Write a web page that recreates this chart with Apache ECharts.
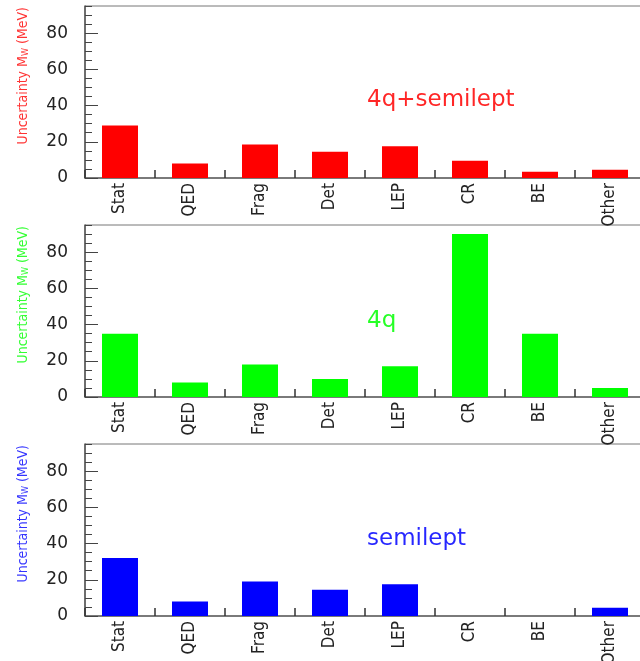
<!DOCTYPE html>
<html>
<head>
<meta charset="utf-8">
<script src="https://cdn.jsdelivr.net/npm/echarts@6/dist/echarts.min.js"></script>
<style>
html,body{margin:0;padding:0;background:#fff;}
#c{width:640px;height:661px;}
</style>
</head>
<body>
<div id="c"></div>
<script>
// ---- data ----
const categories = ['Stat', 'QED', 'Frag', 'Det', 'LEP', 'CR', 'BE', 'Other'];
const combinedValues = [29, 8, 18.5, 14.5, 17.5, 9.5, 3.5, 4.5];
const fourQValues = [35, 8, 18, 10, 17, 90, 35, 5];
const semileptValues = [32, 8, 19, 14.5, 17.5, 0, 0, 4.5];
const yTickLabels = [0, 20, 40, 60, 80];
const panelLabels = ['4q+semilept', '4q', 'semilept'];
const panelColors = ['#ff0000', '#00ff00', '#0000ff'];
const panelValues = [combinedValues, fourQValues, semileptValues];

// ---- layout ----
const gridTops = [6, 225, 444];
const gridH = 172;
const gridLeft = 85;
const gridW = 560;
const yMax = 95;

const chart = echarts.init(document.getElementById('c'), null, {renderer: 'canvas'});

const grids = [], xAxes = [], yAxes = [], series = [], graphics = [];
const narrow = '"DejaVu Sans Condensed", "Liberation Sans Narrow", "DejaVu Sans", sans-serif';

gridTops.forEach((top, i) => {
  grids.push({left: gridLeft, top: top, width: gridW, height: gridH,
    outerBoundsMode: 'none', containLabel: false,
    show: true, borderColor: '#777', borderWidth: 1, backgroundColor: 'transparent'});
  xAxes.push({
    type: 'category', gridIndex: i, data: categories, position: 'bottom',
    axisLine: {show: true, lineStyle: {color: '#666', width: 1.5}},
    axisTick: {show: true, inside: true, length: 8, interval: 0, lineStyle: {color: '#333', width: 1.5}},
    axisLabel: {show: true, rotate: 90, margin: 5, interval: 0, color: '#222',
      fontFamily: narrow, fontSize: 17}
  });
  // minor-tick axis (every 5)
  yAxes.push({
    type: 'value', gridIndex: i, position: 'left', min: 0, max: yMax, interval: 5,
    axisLine: {show: true, lineStyle: {color: '#555', width: 1.5}},
    axisTick: {show: true, inside: true, length: 7, lineStyle: {color: '#444', width: 1}},
    axisLabel: {show: false},
    splitLine: {show: false}
  });
  // major-tick axis with labels
  yAxes.push({
    type: 'value', gridIndex: i, position: 'left', min: 0, max: yMax, interval: 20,
    axisLine: {show: false},
    axisTick: {show: true, inside: true, length: 13, lineStyle: {color: '#444', width: 1}},
    axisLabel: {show: true, margin: 17, color: '#222', fontFamily: '"DejaVu Sans", sans-serif',
      fontSize: 17, showMaxLabel: false,
      formatter: v => (yTickLabels.indexOf(v) >= 0 ? String(v) : '')},
    splitLine: {show: false}
  });
  series.push({
    type: 'bar', xAxisIndex: i, yAxisIndex: 2 * i + 1, data: panelValues[i],
    barWidth: 36, itemStyle: {color: panelColors[i]}, silent: true, animation: false
  });
  graphics.push({
    type: 'text', x: 23, y: top + 1, rotation: Math.PI / 2,
    style: {
      text: 'Uncertainty M{sub|W} (MeV)', fill: panelColors[i], align: 'right', verticalAlign: 'middle',
      font: '14px ' + narrow, opacity: 0.8,
      rich: {sub: {fontSize: 9, fontFamily: narrow, fill: panelColors[i], padding: [6, 0, 0, 0]}}
    }
  });
});

const annotY = [100, 321, 539];
panelLabels.forEach((t, i) => {
  graphics.push({
    type: 'text', x: 367, y: annotY[i],
    style: {text: t, fill: panelColors[i], align: 'left', verticalAlign: 'middle', opacity: 0.85,
      font: '23px "DejaVu Sans", sans-serif'}
  });
});

chart.setOption({
  animation: false,
  backgroundColor: '#ffffff',
  grid: grids,
  xAxis: xAxes,
  yAxis: yAxes,
  series: series,
  graphic: graphics
});
</script>
</body>
</html>
